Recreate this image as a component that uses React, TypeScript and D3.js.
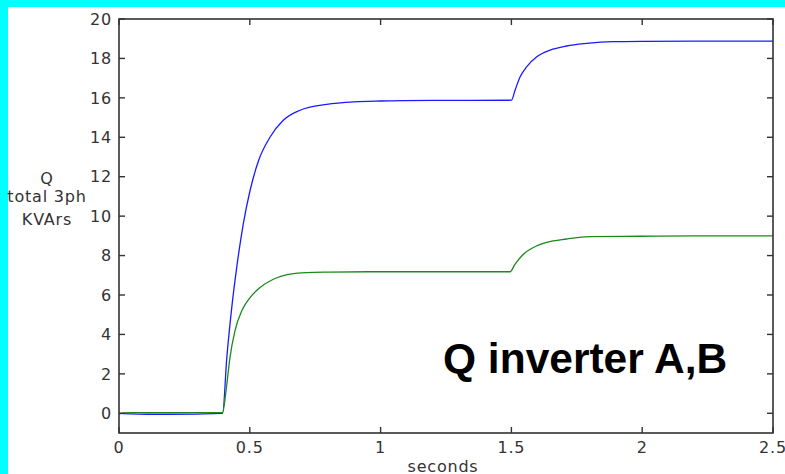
import React from "react";
import * as d3 from "d3";

const blueTime = [0, 0.13, 0.19, 0.396, 0.412, 0.431, 0.45, 0.475, 0.501, 0.533, 0.577, 0.628, 0.692, 0.794, 0.9, 1.0, 1.2, 1.5, 1.514, 1.533, 1.558, 1.597, 1.648, 1.711, 1.788, 1.89, 2.0, 2.2, 2.5];
const blueQ = [0, -0.05, -0.05, 0, 2.8, 5.36, 7.4, 9.6, 11.3, 12.8, 14.0, 14.86, 15.37, 15.67, 15.8, 15.84, 15.87, 15.88, 16.39, 17.06, 17.57, 18.08, 18.42, 18.63, 18.76, 18.85, 18.87, 18.88, 18.88];

const greenTime = [0, 0.035, 0.396, 0.409, 0.424, 0.443, 0.469, 0.501, 0.539, 0.59, 0.654, 0.717, 0.807, 1.0, 1.2, 1.495, 1.514, 1.546, 1.584, 1.635, 1.711, 1.8, 1.99, 2.2, 2.5];
const greenQ = [-0.03, 0.03, 0.03, 1.12, 2.81, 4.17, 5.19, 5.87, 6.38, 6.8, 7.06, 7.14, 7.16, 7.18, 7.18, 7.18, 7.57, 8.07, 8.41, 8.67, 8.84, 8.96, 8.98, 9.0, 9.0];

const xTicks = [0, 0.5, 1, 1.5, 2, 2.5];
const xTickLabels = ["0", "0.5", "1", "1.5", "2", "2.5"];
const yTicks = [0, 2, 4, 6, 8, 10, 12, 14, 16, 18, 20];
const yLabelLines = ["Q", "total 3ph", "KVArs"];
const title = "Q inverter A,B";
const xLabel = "seconds";

export default function App() {
  const W = 785, H = 474;
  const left = 119, right = 773, top = 19, bottom = 433;
  const x = d3.scaleLinear().domain([0, 2.5]).range([left, right]);
  const y = d3.scaleLinear().domain([-1, 20]).range([bottom, top]);
  const line = d3
    .line<[number, number]>()
    .x((d) => x(d[0]))
    .y((d) => y(d[1]))
    .curve(d3.curveMonotoneX);
  const blue = blueTime.map((t, i) => [t, blueQ[i]] as [number, number]);
  const green = greenTime.map((t, i) => [t, greenQ[i]] as [number, number]);
  const axisColor = "#333";
  const tickFont = { fontFamily: "DejaVu Sans", fontSize: 16, letterSpacing: 0.8, fill: "#333" } as any;
  const yLabelBaselines = [184, 202, 225];
  return (
    <svg width={W} height={H} style={{ position: "absolute", left: 0, top: 0, background: "#fff" }}>
      <rect x={0} y={0} width={W} height={H} fill="#fff" />
      <rect x={0} y={0} width={W} height={7} fill="#00ffff" />
      <rect x={0} y={0} width={8} height={H} fill="#00ffff" />
      <rect x={left} y={top} width={right - left} height={bottom - top} fill="#fff" />
      <path d={line(blue) || ""} fill="none" stroke="#1a1aff" strokeWidth={1.3} />
      <path d={line(green) || ""} fill="none" stroke="#1a8a1a" strokeWidth={1.3} />
      <rect x={left} y={top} width={right - left} height={bottom - top} fill="none" stroke={axisColor} strokeWidth={1.6} />
      {xTicks.map((t, i) => (
        <g key={"x" + i}>
          <line x1={x(t)} x2={x(t)} y1={bottom} y2={bottom - 6} stroke={axisColor} strokeWidth={1.4} />
          <line x1={x(t)} x2={x(t)} y1={top} y2={top + 6} stroke={axisColor} strokeWidth={1.4} />
          <text x={x(t)} y={453} textAnchor="middle" {...tickFont}>{xTickLabels[i]}</text>
        </g>
      ))}
      {yTicks.map((v, i) => (
        <g key={"y" + i}>
          <line x1={left} x2={left + 6} y1={y(v)} y2={y(v)} stroke={axisColor} strokeWidth={1.4} />
          <line x1={right} x2={right - 6} y1={y(v)} y2={y(v)} stroke={axisColor} strokeWidth={1.4} />
          <text x={112} y={y(v)} dy="0.36em" textAnchor="end" {...tickFont}>{String(v)}</text>
        </g>
      ))}
      {yLabelLines.map((s, i) => (
        <text key={"yl" + i} x={47} y={yLabelBaselines[i]} textAnchor="middle" {...tickFont}>{s}</text>
      ))}
      <text x={443} y={472} textAnchor="middle" {...tickFont}>{xLabel}</text>
      <text x={443} y={373} fontFamily="Liberation Sans" fontWeight="bold" fontSize={42.5} fill="#000">{title}</text>
    </svg>
  );
}
